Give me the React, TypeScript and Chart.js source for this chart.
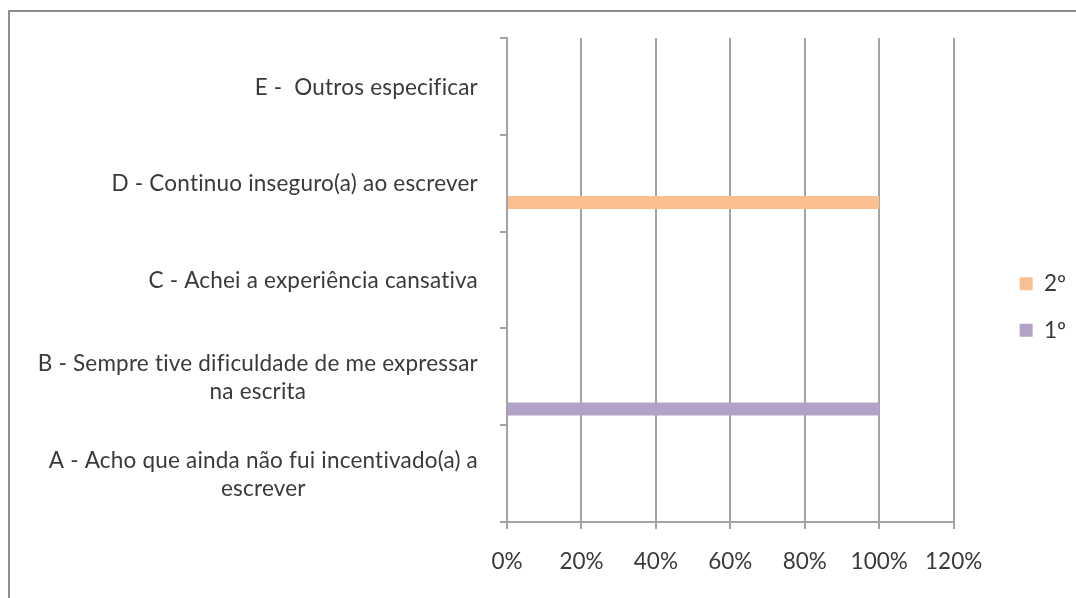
import React, { useEffect, useRef } from 'react';
import { Chart, registerables } from 'chart.js';

Chart.register(...registerables);

// ---- data ----
const categories: string[][] = [
  ['E -  Outros especificar'],
  ['D - Continuo inseguro(a) ao escrever'],
  ['C - Achei a experiência cansativa'],
  ['B - Sempre tive dificuldade de me expressar', 'na escrita'],
  ['A - Acho que ainda não fui incentivado(a) a', 'escrever'],
];
const series1Label = '1º';
const series2Label = '2º';
const series1Values: (number | null)[] = [0, 0, 0, 1, 0];
const series2Values: (number | null)[] = [0, 1, 0, 0, 0];
const unnamedSeriesValues: (number | null)[] = [null, null, null, null, null];
const xTickValues: number[] = [0, 0.2, 0.4, 0.6, 0.8, 1.0, 1.2];

// ---- style ----
const FONT = 'Lato';
const FS = 22.5;
const LINE_H = 28;
const TEXT = '#3a3a3a';
const GRID = '#a3a3a3';
const ORANGE = '#F9BF91';
const PURPLE = '#B3A2C7';

const yLabelPlugin = {
  id: 'yLabelsCentered',
  afterDraw(chart: any) {
    const ctx = chart.ctx;
    const y = chart.scales.y;
    const right = chart.chartArea.left - 29;
    ctx.save();
    ctx.font = `${FS}px ${FONT}`;
    try {
      (ctx as any).letterSpacing = '0.2px';
    } catch (e) {
      /* ignore */
    }
    ctx.fillStyle = TEXT;
    ctx.textBaseline = 'middle';
    ctx.textAlign = 'center';
    categories.forEach((lines, i) => {
      const cy = y.getPixelForTick(i);
      const widest = Math.max(...lines.map((l) => ctx.measureText(l).width));
      const cx = right - widest / 2;
      lines.forEach((l, j) => {
        ctx.fillText(l, cx, cy + 1 + (j - (lines.length - 1) / 2) * LINE_H);
      });
    });
    ctx.restore();
  },
};

export default function App() {
  const ref = useRef<HTMLCanvasElement | null>(null);

  useEffect(() => {
    if (!ref.current) return;
    const blank = () => ({
      label: '',
      data: unnamedSeriesValues,
      backgroundColor: 'transparent',
    });
    const chart = new Chart(ref.current, {
      type: 'bar',
      data: {
        labels: categories.map((c) => c.join(' ')),
        datasets: [
          blank() as any,
          blank() as any,
          blank() as any,
          blank() as any,
          { label: series2Label, data: series2Values, backgroundColor: ORANGE, borderWidth: 0 },
          { label: series1Label, data: series1Values, backgroundColor: PURPLE, borderWidth: 0 },
        ],
      },
      options: {
        indexAxis: 'y',
        animation: false,
        responsive: false,
        maintainAspectRatio: false,
        events: [],
        datasets: { bar: { categoryPercentage: 0.8, barPercentage: 1 } },
        layout: { padding: { top: 16, bottom: 0, left: 0, right: 0 } },
        font: { family: FONT, size: FS },
        scales: {
          x: {
            type: 'linear',
            position: 'bottom',
            min: 0,
            max: 1.2,
            afterBuildTicks: (s: any) => {
              s.ticks = xTickValues.map((v) => ({ value: v }));
            },
            afterFit: (s: any) => {
              s.height = 76;
            },
            ticks: {
              color: TEXT,
              font: { family: FONT, size: FS },
              padding: 19,
              callback: (v: any) => `${Math.round(Number(v) * 100)}%`,
              maxRotation: 0,
            },
            grid: { color: GRID, lineWidth: 2, tickLength: 7, drawTicks: true },
            border: { color: GRID, width: 2 },
          },
          y: {
            type: 'category',
            position: 'left',
            offset: true,
            afterFit: (s: any) => {
              s.width = 507;
            },
            ticks: { display: false },
            grid: { offset: true, drawOnChartArea: false, drawTicks: true, tickLength: 7, color: GRID, lineWidth: 2 },
            border: { color: GRID, width: 2 },
          },
          xTop: {
            type: 'linear',
            position: 'top',
            display: true,
            grid: { display: false },
            border: { display: false },
            ticks: { display: false },
            afterFit: (s: any) => {
              s.height = 22;
            },
          },
          yRight: {
            type: 'linear',
            position: 'right',
            display: true,
            grid: { display: false },
            border: { display: false },
            ticks: { display: false },
            afterFit: (s: any) => {
              s.width = 42;
            },
          },
        },
        plugins: {
          title: { display: false },
          tooltip: { enabled: false },
          legend: {
            display: true,
            position: 'right',
            labels: {
              boxWidth: 13,
              boxHeight: 13,
              padding: 24,
              color: TEXT,
              font: { family: FONT, size: FS },
              filter: (item: any) => item.text !== '',
            },
          },
        },
      } as any,
      plugins: [yLabelPlugin],
    });
    return () => chart.destroy();
  }, []);

  return (
    <div style={{ position: 'fixed', left: 0, top: 0, width: 1076, height: 598, overflow: 'hidden', background: '#ffffff' }}>
      <canvas ref={ref} width={1076} height={598} style={{ position: 'absolute', left: 0, top: 0, width: 1076, height: 598 }} />
      <div
        style={{
          position: 'absolute',
          left: 8,
          top: 10,
          width: 1200,
          height: 700,
          border: '2px solid #8e8e8e',
          pointerEvents: 'none',
        }}
      />
    </div>
  );
}
